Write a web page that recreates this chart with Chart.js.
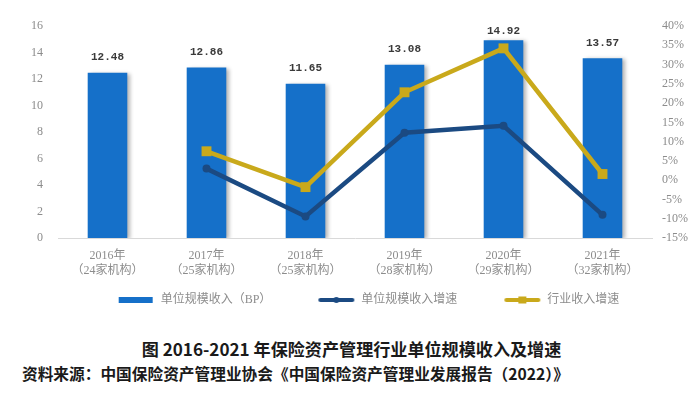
<!DOCTYPE html>
<html lang="zh">
<head>
<meta charset="utf-8">
<script src="https://cdn.jsdelivr.net/npm/chart.js@4.4.0/dist/chart.umd.min.js"></script>
<style>
  body { margin: 0; background: #fff; }
  #wrap { position: relative; width: 700px; height: 397px; overflow: hidden; }
  #box { position: absolute; left: 0; top: 0; width: 700px; height: 316px; }
  .cap { position: absolute; font-family: "Noto Sans CJK SC", sans-serif; font-weight: bold; color: #1a1a1a; white-space: nowrap; }
  #title { left: 0; width: 703px; text-align: center; top: 338px; font-size: 17.1px; line-height: 22px; }
  #source { left: 22px; top: 364px; font-size: 15.7px; line-height: 20px; }
</style>
</head>
<body>
<div id="wrap">
  <div id="box"><canvas id="grafico"></canvas></div>
  <div class="cap" id="title">图 2016-2021 年保险资产管理行业单位规模收入及增速</div>
  <div class="cap" id="source">资料来源：中国保险资产管理业协会《中国保险资产管理业发展报告（2022）》</div>
</div>
<script>
// datos
const years = ["2016年", "2017年", "2018年", "2019年", "2020年", "2021年"];
const orgs = ["（24家机构）", "（25家机构）", "（25家机构）", "（28家机构）", "（29家机构）", "（32家机构）"];
const unitIncome = [12.48, 12.86, 11.65, 13.08, 14.92, 13.57];
const unitGrowth = [null, 3.0, -9.4, 12.3, 14.1, -9.0];
const industryGrowth = [null, 7.5, -1.8, 22.8, 34.2, 1.6];
const leftTicks = [0, 2, 4, 6, 8, 10, 12, 14, 16];
const rightTicks = [-15, -10, -5, 0, 5, 10, 15, 20, 25, 30, 35, 40];

const azulBarra = "#1570c9";
const azulLinea = "#1b4a82";
const dorado = "#c9a91b";
const gris = "#8c8c8c";
const fuenteSerif = '"Liberation Serif", "Noto Sans CJK SC", serif';

//  iconos de leyenda (con margen en blanco a la izquierda para separar los elementos)
const margenIcono = 36;
function iconoLeyenda(tipo, color) {
  const c = document.createElement("canvas");
  c.width = margenIcono + 38; c.height = 10;
  const g = c.getContext("2d");
  g.translate(margenIcono, 0);
  g.fillStyle = color;
  g.strokeStyle = color;
  if (tipo === "bar") {
    g.fillRect(2, 2, 34, 6);
  } else {
    g.lineWidth = 4;
    g.lineCap = "round";
    g.beginPath();
    g.moveTo(3, 5);
    g.lineTo(35, 5);
    g.stroke();
    if (tipo === "circle") {
      g.beginPath();
      g.arc(19, 5, 3, 0, Math.PI * 2);
      g.fill();
    } else {
      g.fillRect(15, 1.5, 8, 7);
    }
  }
  return c;
}
const iconos = [iconoLeyenda("bar", azulBarra), iconoLeyenda("circle", azulLinea), iconoLeyenda("rect", dorado)];

//  sombra de barras y etiquetas de valor
const pluginBarras = {
  id: "pluginBarras",
  beforeDatasetDraw(chart, args) {
    if (args.index !== 0) return;
    const ctx = chart.ctx;
    ctx.save();
    ctx.shadowColor = "rgba(0,0,0,0.3)";
    ctx.shadowBlur = 4;
    ctx.shadowOffsetX = 3;
    ctx.shadowOffsetY = 1;
  },
  afterDatasetDraw(chart, args) {
    if (args.index !== 0) return;
    chart.ctx.restore();
  },
  afterDatasetsDraw(chart) {
    const ctx = chart.ctx;
    const meta = chart.getDatasetMeta(0);
    ctx.save();
    ctx.font = 'bold 11px "Liberation Mono", "DejaVu Sans Mono", monospace';
    ctx.fillStyle = "#3a3a3a";
    ctx.textAlign = "center";
    ctx.textBaseline = "middle";
    meta.data.forEach((bar, i) => {
      const y = Math.max(bar.y - 15, chart.chartArea.top + 5);
      ctx.fillText(unitIncome[i].toFixed(2), bar.x, y);
    });
    ctx.restore();
  }
};

const ctx = document.getElementById("grafico").getContext("2d");
new Chart(ctx, {
  data: {
    labels: years.map((y, i) => [y, orgs[i]]),
    datasets: [
      {
        type: "bar",
        label: "单位规模收入（BP）",
        data: unitIncome,
        backgroundColor: azulBarra,
        yAxisID: "y",
        barPercentage: 0.4,
        categoryPercentage: 1,
        order: 3
      },
      {
        type: "line",
        label: "单位规模收入增速",
        data: unitGrowth,
        borderColor: azulLinea,
        backgroundColor: azulLinea,
        borderWidth: 4.5,
        pointStyle: "circle",
        pointRadius: 4,
        pointBorderWidth: 0,
        yAxisID: "y1",
        order: 2
      },
      {
        type: "line",
        label: "行业收入增速",
        data: industryGrowth,
        borderColor: dorado,
        backgroundColor: dorado,
        borderWidth: 4.5,
        pointStyle: "rect",
        pointRadius: 7,
        pointBorderWidth: 0,
        yAxisID: "y1",
        order: 1
      }
    ]
  },
  options: {
    responsive: true,
    maintainAspectRatio: false,
    animation: false,
    layout: { padding: { top: 26, left: 0, right: 0, bottom: 0 } },
    plugins: {
      tooltip: { enabled: false },
      legend: {
        position: "bottom",
        labels: {
          color: gris,
          font: { family: fuenteSerif, size: 12 },
          usePointStyle: true,
          pointStyleWidth: margenIcono + 38,
          boxHeight: 10,
          padding: 10,
          generateLabels(chart) {
            const items = Chart.defaults.plugins.legend.labels.generateLabels(chart);
            items.sort((a, b) => a.datasetIndex - b.datasetIndex);
            items.forEach(it => { it.pointStyle = iconos[it.datasetIndex]; });
            return items;
          }
        }
      }
    },
    scales: {
      x: {
        grid: { display: false, drawTicks: false },
        border: { display: true, color: "#d9d9d9", width: 1 },
        ticks: {
          color: gris,
          font: { family: fuenteSerif, size: 12, lineHeight: 1.25 },
          padding: 10,
          maxRotation: 0,
          autoSkip: false
        },
        afterFit(axis) { axis.height = 46; }
      },
      y: {
        position: "left",
        min: 0,
        max: 16,
        grid: { display: false, drawTicks: false },
        border: { display: false },
        afterBuildTicks(axis) { axis.ticks = leftTicks.map(v => ({ value: v })); },
        ticks: {
          color: gris,
          font: { family: fuenteSerif, size: 12 },
          padding: 15
        },
        afterFit(axis) { axis.width = 58; }
      },
      y1: {
        position: "right",
        min: -15,
        max: 40,
        grid: { display: false, drawTicks: false },
        border: { display: false },
        afterBuildTicks(axis) { axis.ticks = rightTicks.map(v => ({ value: v })); },
        ticks: {
          color: gris,
          font: { family: fuenteSerif, size: 12 },
          padding: 10,
          callback: v => v + "%"
        },
        afterFit(axis) { axis.width = 48; }
      }
    }
  },
  plugins: [pluginBarras]
});
</script>
</body>
</html>
